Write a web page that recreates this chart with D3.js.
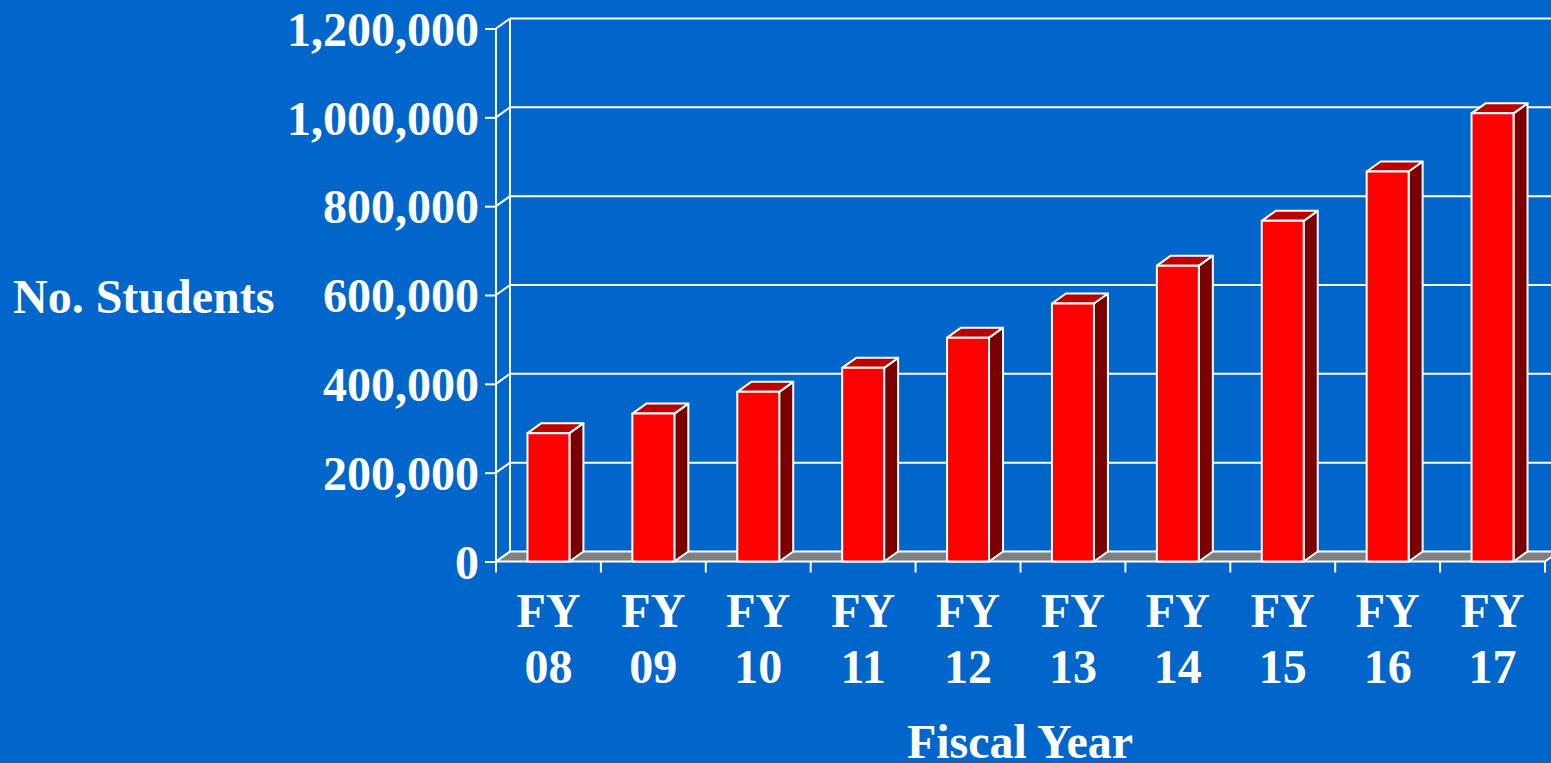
<!DOCTYPE html>
<html>
<head>
<meta charset="utf-8">
<script src="https://cdn.jsdelivr.net/npm/d3@7"></script>
<style>
  html, body { margin: 0; padding: 0; background: #0066cc; overflow: hidden; }
  svg { display: block; }
  text { font-family: "Liberation Serif", "Times New Roman", serif; font-weight: bold; fill: #ffffff; }
</style>
</head>
<body>
<svg id="chart" width="1551" height="763"></svg>
<script>
// ---- data ----
const categories = ["FY 08", "FY 09", "FY 10", "FY 11", "FY 12", "FY 13", "FY 14", "FY 15", "FY 16", "FY 17"];
const students = [289000, 333000, 382000, 436000, 504000, 581000, 666000, 767000, 878000, 1009000];
const yTicks = [0, 200000, 400000, 600000, 800000, 1000000, 1200000];
const yAxisTitle = "No. Students";
const xAxisTitle = "Fiscal Year";

// ---- layout ----
const x0 = 496, x1 = 1545, yBottom = 561.5, yTop = 28.5;
const depthX = 14, depthY = -10;
const barFrac = 0.4;
const fontSize = 48;

const svg = d3.select("#chart");
const x = d3.scaleBand().domain(categories).range([x0, x1]).padding(0);
const y = d3.scaleLinear().domain([0, 1200000]).range([yBottom, yTop]);
const fmt = d3.format(",");

const white = "#ffffff";
const lw = 2;

// floor (gray)
svg.append("path")
  .attr("d", `M${x0},${y(0)} L${x1},${y(0)} L${x1 + depthX},${y(0) + depthY} L${x0 + depthX},${y(0) + depthY} Z`)
  .attr("fill", "#808080").attr("stroke", white).attr("stroke-width", lw).attr("stroke-linejoin", "round");

// back wall left edge
svg.append("line")
  .attr("x1", x0 + depthX).attr("x2", x0 + depthX)
  .attr("y1", y(1200000) + depthY).attr("y2", y(0) + depthY)
  .attr("stroke", white).attr("stroke-width", lw);

// gridlines (back wall + diagonal on side wall)
const grid = svg.append("g");
yTicks.forEach(t => {
  if (t > 0) {
    grid.append("line")
      .attr("x1", x0 + depthX).attr("x2", x1 + depthX + 20)
      .attr("y1", y(t) + depthY).attr("y2", y(t) + depthY)
      .attr("stroke", white).attr("stroke-width", lw);
  }
  grid.append("line")
    .attr("x1", x0).attr("x2", x0 + depthX)
    .attr("y1", y(t)).attr("y2", y(t) + depthY)
    .attr("stroke", white).attr("stroke-width", lw);
});

// front y axis line
svg.append("line")
  .attr("x1", x0).attr("x2", x0)
  .attr("y1", y(1200000)).attr("y2", y(0) + 11)
  .attr("stroke", white).attr("stroke-width", lw);

// y axis via d3
const yAxis = d3.axisLeft(y).tickValues(yTicks).tickFormat(fmt).tickSize(11).tickPadding(6);
const gy = svg.append("g").attr("transform", `translate(${x0},0)`).call(yAxis);
gy.select(".domain").remove();
gy.selectAll(".tick line").attr("stroke", white).attr("stroke-width", lw);
gy.selectAll(".tick text")
  .attr("fill", white).attr("font-size", fontSize).attr("dy", "0.35em")
  .style("font-family", '"Liberation Serif", "Times New Roman", serif').style("font-weight", "bold");

// x axis ticks (band boundaries)
const xt = svg.append("g");
categories.forEach((c, i) => {
  const bx = x(c) + x.bandwidth();
  xt.append("line")
    .attr("x1", bx).attr("x2", bx)
    .attr("y1", y(0)).attr("y2", y(0) + 11)
    .attr("stroke", white).attr("stroke-width", lw);
});

// x labels (two lines)
categories.forEach(c => {
  const parts = c.split(" ");
  const cx = x(c) + x.bandwidth() / 2;
  const t = svg.append("text").attr("text-anchor", "middle").attr("font-size", fontSize);
  t.append("tspan").attr("x", cx).attr("y", 627).text(parts[0]);
  t.append("tspan").attr("x", cx).attr("y", 683).text(parts[1]);
});

// bars
const bw = x.bandwidth() * barFrac;
const bars = svg.append("g");
categories.forEach((c, i) => {
  const v = students[i];
  const bl = x(c) + (x.bandwidth() - bw) / 2;
  const br = bl + bw;
  const top = y(v), bot = y(0);
  const g = bars.append("g").attr("stroke", white).attr("stroke-width", lw).attr("stroke-linejoin", "round");
  g.append("path")
    .attr("d", `M${br},${bot} L${br + depthX},${bot + depthY} L${br + depthX},${top + depthY} L${br},${top} Z`)
    .attr("fill", "#7a0000");
  g.append("path")
    .attr("d", `M${bl},${top} L${br},${top} L${br + depthX},${top + depthY} L${bl + depthX},${top + depthY} Z`)
    .attr("fill", "#bb0000");
  g.append("rect")
    .attr("x", bl).attr("y", top).attr("width", bw).attr("height", bot - top)
    .attr("fill", "#ff0000");
});

// axis titles
svg.append("text").attr("x", 13).attr("y", 313).attr("font-size", fontSize).attr("text-anchor", "start").text(yAxisTitle);
svg.append("text").attr("x", 1020).attr("y", 758).attr("font-size", fontSize).attr("text-anchor", "middle").text(xAxisTitle);
</script>
</body>
</html>
